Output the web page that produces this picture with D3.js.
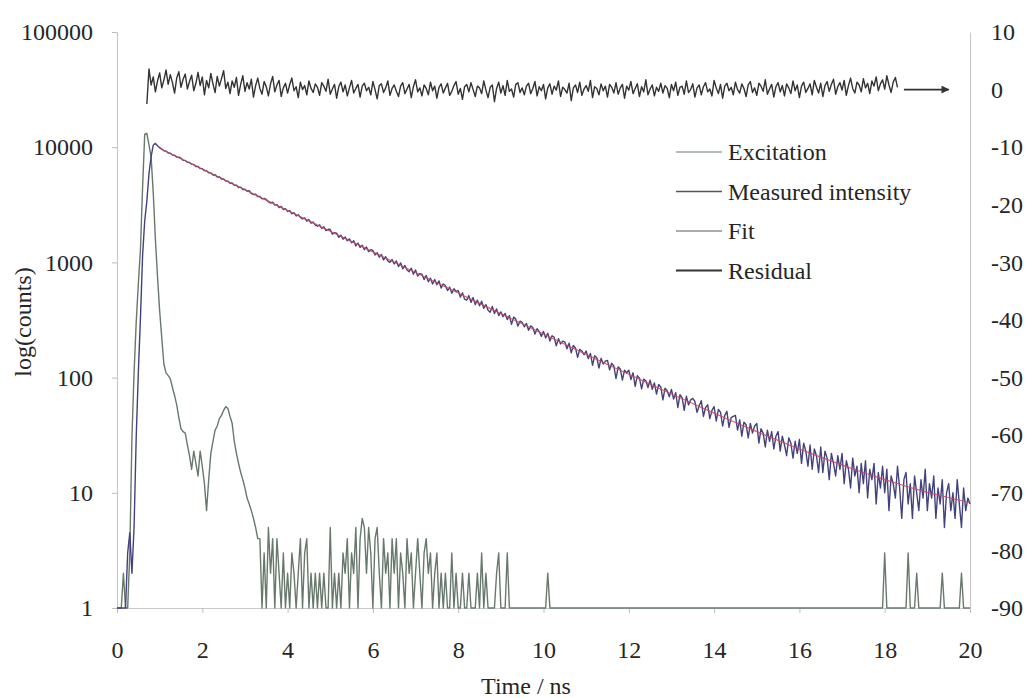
<!DOCTYPE html>
<html>
<head>
<meta charset="utf-8">
<script src="https://cdn.jsdelivr.net/npm/d3@7/dist/d3.min.js"></script>
<style>
  body { margin: 0; background: #fff; }
  svg { display: block; font-family: "Liberation Serif", "Times New Roman", serif; }
</style>
</head>
<body>
<svg id="chart" width="1032" height="698"></svg>
<script>
// time axis of the binned traces, ns
const binStart = 0
const binStep = 0.05

// excitation pulse (IRF), counts per bin; 1 = empty bin shown on the baseline
const excitation = [
  1, 1, 1, 2, 1, 1, 3, 30, 110, 300,
  650, 1300, 4500, 13000, 13200, 10500, 8200, 4000, 1600, 750,
  380, 220, 130, 110, 104, 98, 82, 70, 58, 45,
  36, 34, 33, 26, 21, 16, 23, 18, 14, 23,
  17, 12, 7, 13, 22, 28, 35, 38, 44, 47,
  52, 56, 54, 46, 40, 28, 22, 18, 15, 13,
  11, 9, 8, 7, 6, 5, 4, 4, 1, 3,
  1, 5, 2, 4, 1, 4, 2, 1, 3, 1,
  2, 1, 3, 2, 1, 2, 4, 1, 3, 4,
  1, 2, 1, 2, 1, 2, 1, 2, 1, 1,
  5, 1, 2, 1, 2, 1, 3, 2, 4, 1,
  3, 2, 5, 1, 4, 6, 5, 2, 5, 3,
  1, 4, 5, 2, 1, 4, 2, 3, 1, 4,
  2, 4, 1, 3, 2, 1, 4, 2, 3, 1,
  2, 4, 2, 1, 3, 4, 2, 3, 1, 2,
  3, 1, 2, 1, 2, 1, 1, 3, 1, 2,
  1, 1, 2, 1, 1, 2, 1, 1, 1, 2,
  1, 3, 1, 2, 1, 1, 1, 1, 2, 3,
  1, 1, 1, 3, 1, 1, 1, 1, 1, 1,
  1, 1, 1, 1, 1, 1, 1, 1, 1, 1,
  1, 1, 2, 1, 1, 1, 1, 1, 1, 1,
  1, 1, 1, 1, 1, 1, 1, 1, 1, 1,
  1, 1, 1, 1, 1, 1, 1, 1, 1, 1,
  1, 1, 1, 1, 1, 1, 1, 1, 1, 1,
  1, 1, 1, 1, 1, 1, 1, 1, 1, 1,
  1, 1, 1, 1, 1, 1, 1, 1, 1, 1,
  1, 1, 1, 1, 1, 1, 1, 1, 1, 1,
  1, 1, 1, 1, 1, 1, 1, 1, 1, 1,
  1, 1, 1, 1, 1, 1, 1, 1, 1, 1,
  1, 1, 1, 1, 1, 1, 1, 1, 1, 1,
  1, 1, 1, 1, 1, 1, 1, 1, 1, 1,
  1, 1, 1, 1, 1, 1, 1, 1, 1, 1,
  1, 1, 1, 1, 1, 1, 1, 1, 1, 1,
  1, 1, 1, 1, 1, 1, 1, 1, 1, 1,
  1, 1, 1, 1, 1, 1, 1, 1, 1, 1,
  1, 1, 1, 1, 1, 1, 1, 1, 1, 1,
  3, 1, 1, 1, 1, 1, 1, 1, 1, 1,
  1, 3, 1, 1, 1, 2, 1, 1, 1, 1,
  1, 1, 1, 1, 1, 1, 1, 2, 1, 1,
  1, 1, 1, 1, 1, 1, 2, 1, 1, 1,
  1
]

// measured decay, counts per bin
const measured = [
  1, 1, 1, 1, 1, 3, 4.5, 2, 5, 30,
  110, 330, 1150, 2300, 3400, 5900, 8300, 10400, 10800, 10300,
  9900, 9640, 9310, 9250, 8900, 8870, 8560, 8510, 8200, 8180,
  8020, 7700, 7680, 7390, 7360, 7100, 7090, 6800, 6790, 6520,
  6510, 6260, 6250, 6000, 5990, 5740, 5760, 5520, 5530, 5290,
  5300, 5090, 5080, 4860, 4890, 4660, 4690, 4470, 4500, 4290,
  4310, 4150, 4190, 3950, 3890, 3900, 3720, 3740, 3560, 3590,
  3520, 3350, 3280, 3330, 3140, 3170, 2990, 3060, 2880, 2930,
  2770, 2820, 2640, 2700, 2530, 2590, 2460, 2390, 2430, 2280,
  2350, 2190, 2240, 2110, 2060, 2120, 1970, 2040, 1890, 1940,
  1930, 1760, 1810, 1790, 1650, 1720, 1590, 1660, 1540, 1600,
  1480, 1540, 1390, 1470, 1350, 1410, 1290, 1360, 1240, 1290,
  1270, 1160, 1210, 1110, 1170, 1050, 1120, 1030, 1000, 1060,
  970, 1030, 920, 990, 880, 940, 860, 830, 890, 790,
  860, 760, 800, 790, 710, 770, 680, 730, 650, 710,
  640, 690, 600, 650, 630, 570, 610, 540, 590, 560,
  570, 500, 545, 480, 470, 515, 450, 495, 430, 470,
  420, 460, 400, 430, 385, 370, 415, 360, 395, 345,
  372, 338, 361, 319, 345, 290, 335, 322, 280, 309,
  301, 276, 295, 258, 281, 272, 239, 266, 251, 228,
  252, 221, 243, 208, 231, 224, 189, 218, 196, 207,
  204, 178, 199, 164, 190, 181, 150, 176, 170, 158,
  170, 146, 162, 128, 155, 149, 121, 147, 131, 139,
  141, 117, 133, 126, 98, 124, 119, 95, 116, 110,
  116, 96, 110, 84, 104, 99, 80, 97, 94, 82,
  95, 79, 90, 72, 87, 83, 64, 81, 77, 68,
  79, 65, 74, 55, 71, 67, 52, 69, 58, 64,
  66, 62, 50, 57, 63, 46, 55, 58, 44, 52,
  56, 42, 53, 50, 38, 47, 51, 37, 45, 46,
  47, 35, 43, 31, 41, 39, 30, 40, 33, 38,
  40, 27, 36, 33, 25, 35, 28, 34, 24, 31,
  34, 23, 31, 26, 21, 30, 27, 20, 28, 22,
  29, 18, 27, 23, 17, 26, 16, 24, 21, 15,
  25, 15, 23, 20, 13, 22, 18, 14, 21, 16,
  22, 12, 19, 16, 11, 20, 14, 17, 10, 18,
  12, 19, 9, 16, 13, 18, 8, 15, 11, 17,
  10, 16, 7, 14, 12, 9, 17, 11, 6, 13,
  15, 8, 12, 6, 14, 10, 7, 13, 9, 16,
  7, 12, 9, 14, 6, 11, 8, 13, 5, 10,
  12, 7, 10, 6, 13, 8, 5, 11, 7, 9,
  8
]

// fitted decay, read every 0.5 ns from 1 ns
const fitStart = 1
const fitStep = 0.5
const fit = [
  9777, 7947, 6460, 5252, 4270, 3472, 2823, 2295, 1866, 1518,
  1235, 1004, 817, 665, 542, 441, 359, 293, 239, 195,
  159, 130, 107, 87.7, 72.1, 59.5, 49.2, 40.8, 34.0, 28.5,
  24.0, 20.4, 17.4, 15.0, 13.0, 11.4, 10.1, 9.1, 8.2
]

// weighted residual (right axis), every 0.05 ns from 0.7 ns
const residualStart = 0.7
const residual = [
  -2.5, 3.6, 0.8, 2.2, -0.4, 1.5, 2.9, 0.3, 1.7, 3.4, 0.9, 2.6, 1.2, -0.6, 2.0, 3.1, 0.4, 1.8, 2.7, 0.1,
  1.4, 2.5, -0.2, 1.1, 3.0, 0.7, 2.2, -0.9, 1.6, 0.3, 2.8, 1.0, -0.5, 2.3, 0.6, 1.9, 3.3, 0.2, 1.3, -0.7,
  1.5, 0.4, 2.1, -1.0, 0.9, 2.4, -0.3, 1.2, 0.1, 1.8, -1.3, 0.7, 2.0, 0.2, -0.8, 1.4, 0.5, -1.1, 1.0, 2.3,
  -0.4, 0.8, 1.6, -1.2, 0.3, 1.1, -0.6, 0.9, 2.0, -0.2, 0.5, -1.4, 1.3, 0.0, 0.7, -0.9, 1.5, 0.2, -0.5, 1.0,
  0.4, -1.0, 1.2, 0.6, -0.3, 1.8, -0.8, 0.1, 0.9, -1.5, 0.5, 1.3, -0.4, 0.8, -1.1, 0.3, 1.6, -0.6, 0.2, 0.9,
  -1.3, 0.6, 1.1, -0.2, 0.4, -0.9, 1.4, 0.0, -1.6, 0.7, 1.0, -0.5, 0.3, 1.5, -1.0, 0.2, 0.8, -0.3, -1.2, 0.6,
  1.2, -0.7, 0.1, 0.9, -1.4, 0.5, 1.7, -0.4, 0.3, -1.1, 0.8, 0.2, -0.9, 1.3, -0.2, 0.6, -1.5, 0.4, 1.0, -0.6,
  0.3, 1.1, -1.0, -0.3, 0.7, 1.4, -0.8, 0.2, -1.7, 0.5, 0.9, -0.4, 1.2, 0.0, -1.2, 0.6, 0.3, -0.7, 1.5, -0.1,
  -1.4, 0.4, 0.8, -2.1, 0.2, 1.3, -0.6, 0.7, -1.0, 1.6, -0.3, 0.1, -1.3, 0.9, 1.2, -0.5, 0.3, -0.9, 0.6, 1.1,
  -0.7, 0.2, 1.4, -1.1, 0.5, -0.2, 0.9, -1.6, 0.3, 1.0, -0.8, 0.6, -0.1, 1.5, -1.2, 0.4, 0.0, -0.6, 1.1, -1.9,
  0.3, 0.8, -0.5, 1.3, -1.0, 0.1, 0.7, -0.3, 1.6, -1.4, 0.5, 0.2, -0.9, 1.0, -0.2, 0.6, -1.3, 0.9, 0.4, -0.6,
  1.2, -0.8, 0.3, 0.9, -1.5, 0.6, -0.1, 1.4, -0.7, 0.2, 1.0, -1.2, 0.5, -0.4, 1.7, -0.9, 0.1, 0.8, -1.1, 0.4,
  -0.3, 1.1, -0.6, 0.7, 0.2, -1.4, 0.9, -0.2, 1.3, -1.0, 0.4, 0.6, -0.8, 1.5, -0.5, 0.0, 1.0, -1.3, 0.3, 0.8,
  -0.9, 0.5, 1.2, -0.4, 0.1, -1.1, 1.6, 0.3, -0.7, 0.9, -1.5, 0.6, 1.1, -0.2, 0.4, -0.9, 1.3, 0.0, -0.6, 1.0,
  0.2, -1.2, 0.8, 1.4, -0.5, 0.3, -1.0, 1.1, 0.6, -0.3, 1.7, -0.8, 0.1, 0.9, -1.3, 0.5, 1.2, -0.4, 0.7, -1.1,
  1.0, 0.3, -0.7, 1.5, -0.2, 0.8, -1.4, 0.6, 1.3, -0.5, 0.2, 1.0, -0.9, 1.6, 0.4, -0.6, 1.1, -1.2, 0.7, 1.4,
  -0.3, 0.9, 1.8, -0.8, 0.5, 1.2, -0.1, 1.6, -1.0, 0.7, 2.0, 0.2, -0.6, 1.3, 0.8, -0.4, 1.9, 0.3, 1.1, -0.7,
  1.5, 0.6, 2.2, -0.2, 1.0, 1.7, 0.1, 2.4, 0.8, -0.5, 1.3, 2.1, 0.4
]

// arrow pointing the residual trace at the right-hand axis (ns, residual units)
const arrowFrom = [18.45, 0]
const arrowTo = [19.5, 0]

const xTicks = [0, 2, 4, 6, 8, 10, 12, 14, 16, 18, 20]
const countTicks = [1, 10, 100, 1000, 10000, 100000]
const residualTicks = [10, 0, -10, -20, -30, -40, -50, -60, -70, -80, -90]
const legendLabels = ['Excitation', 'Measured intensity', 'Fit', 'Residual']

const colors = {
  Excitation: '#68796c',
  'Measured intensity': '#43437c',
  Fit: '#cc4860',
  Residual: '#333333'
}
const legendColors = ['#9aa69c', '#555560', '#8f8f8f', '#333333']

const svg = d3.select('#chart')
const plotLeft = 117, plotRight = 970, plotTop = 32, plotBottom = 608

const x = d3.scaleLinear().domain([0, 20]).range([plotLeft, plotRight])
const y = d3.scaleLog().domain([1, 100000]).range([plotBottom, plotTop])
const yr = d3.scaleLinear().domain([-90, 10]).range([plotBottom, plotTop])

const styleAxis = (g, anchor) => {
  g.select('.domain').attr('stroke', '#c9c9c9').attr('stroke-width', 1.2)
  g.selectAll('.tick line').attr('stroke', '#bdbdbd')
  g.selectAll('.tick text')
    .attr('fill', '#262626')
    .style('font-size', '24px')
    .style('font-family', '"Liberation Serif", "Times New Roman", serif')
  if (anchor) g.selectAll('.tick text').attr('text-anchor', anchor)
}

svg.append('g')
  .attr('transform', `translate(0,${plotBottom})`)
  .call(d3.axisBottom(x).tickValues(xTicks).tickSize(5).tickSizeOuter(0).tickPadding(28))
  .call(g => styleAxis(g))

svg.append('g')
  .attr('transform', `translate(${plotLeft},0)`)
  .call(d3.axisLeft(y).tickValues(countTicks).tickFormat(d3.format('d')).tickSize(5).tickSizeOuter(0).tickPadding(19))
  .call(g => styleAxis(g))

svg.append('g')
  .attr('transform', `translate(${plotRight},0)`)
  .call(d3.axisRight(yr).tickValues(residualTicks).tickFormat(d => d < 0 ? '-' + Math.abs(d) : d).tickSize(0).tickSizeOuter(0).tickPadding(21))
  .call(g => styleAxis(g, 'start'))

// axis titles
svg.append('text')
  .attr('x', 526).attr('y', 694)
  .attr('text-anchor', 'middle')
  .style('font-size', '24px')
  .attr('fill', '#262626')
  .text('Time / ns')

svg.append('text')
  .attr('transform', 'translate(31,322) rotate(-90)')
  .attr('text-anchor', 'middle')
  .style('font-size', '24px')
  .attr('fill', '#262626')
  .text('log(counts)')

const binLine = (start, step, scale) => d3.line()
  .x((d, i) => x(start + i * step))
  .y(d => scale(d))

const traces = svg.append('g').attr('fill', 'none').attr('stroke-linejoin', 'round')

traces.append('path')
  .attr('d', binLine(binStart, binStep, y)(excitation))
  .attr('stroke', colors.Excitation)
  .attr('stroke-width', 1.4)

traces.append('path')
  .attr('d', binLine(binStart, binStep, y)(measured))
  .attr('stroke', colors['Measured intensity'])
  .attr('stroke-width', 1.4)

traces.append('path')
  .attr('d', binLine(fitStart, fitStep, y)(fit))
  .attr('stroke', colors.Fit)
  .attr('stroke-width', 1.2)
  .attr('stroke-opacity', 0.85)

traces.append('path')
  .attr('d', binLine(residualStart, binStep, yr)(residual))
  .attr('stroke', colors.Residual)
  .attr('stroke-width', 1.4)

// arrow to the residual axis
svg.append('defs').append('marker')
  .attr('id', 'arrowhead')
  .attr('viewBox', '0 0 10 10')
  .attr('refX', 9).attr('refY', 5)
  .attr('markerWidth', 10).attr('markerHeight', 8)
  .attr('markerUnits', 'userSpaceOnUse')
  .attr('orient', 'auto')
  .append('path')
  .attr('d', 'M0,0 L10,5 L0,10 z')
  .attr('fill', '#333')

svg.append('line')
  .attr('x1', x(arrowFrom[0])).attr('y1', yr(arrowFrom[1]))
  .attr('x2', x(arrowTo[0])).attr('y2', yr(arrowTo[1]))
  .attr('stroke', '#333').attr('stroke-width', 1.6)
  .attr('marker-end', 'url(#arrowhead)')

// legend
const legend = svg.append('g').attr('transform', 'translate(676,152)')
const rows = legend.selectAll('g').data(legendLabels).enter().append('g')
  .attr('transform', (d, i) => `translate(0,${i * 39.5})`)
rows.append('line')
  .attr('x1', 0).attr('x2', 46)
  .attr('stroke', (d, i) => legendColors[i])
  .attr('stroke-width', (d, i) => i === 3 ? 1.8 : 1.3)
rows.append('text')
  .attr('x', 52).attr('y', 8)
  .style('font-size', '24px')
  .attr('fill', '#262626')
  .text(d => d)
</script>
</body>
</html>
